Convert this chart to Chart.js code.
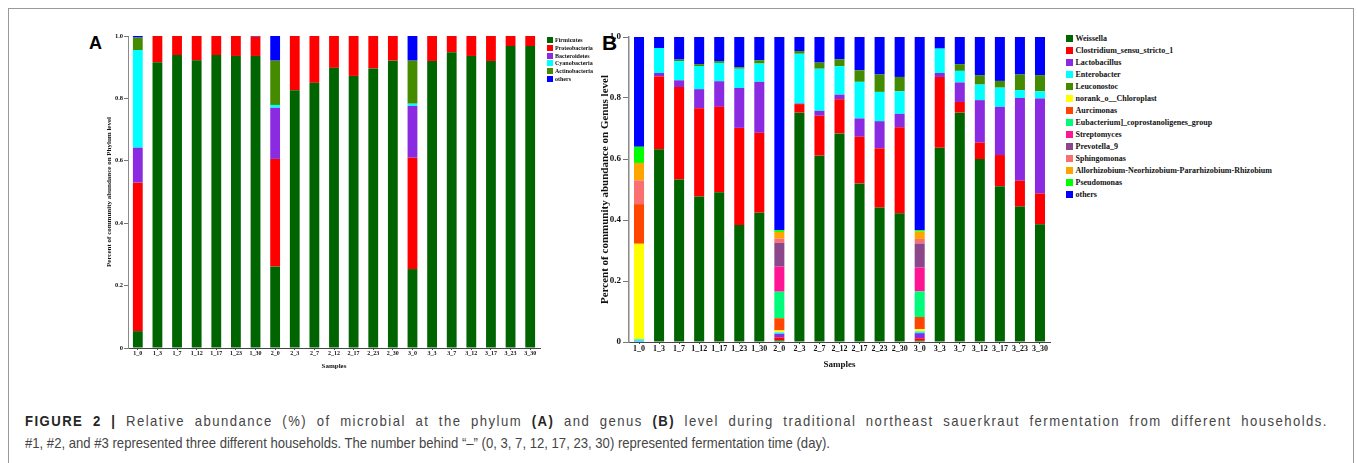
<!DOCTYPE html>
<html><head><meta charset="utf-8">
<script src="https://cdn.jsdelivr.net/npm/chart.js@4.4.1/dist/chart.umd.min.js"></script>
<style>
html,body{margin:0;padding:0;background:#fff;}
body{width:1357px;height:463px;overflow:hidden;position:relative;}
#frame{position:absolute;left:8px;top:8px;width:1346px;height:470px;border:1px solid #9a9a9a;border-bottom:none;box-sizing:border-box;}
canvas{position:absolute;}
.plabel{position:absolute;font-family:"Liberation Sans",Arial,sans-serif;font-weight:bold;color:#000;line-height:1;}
.legend{position:absolute;font-family:"Liberation Serif","Times New Roman",serif;font-weight:bold;color:#111;}
.legend .it{position:absolute;left:0;white-space:nowrap;display:flex;align-items:center;}
.legend .sw{display:inline-block;flex:none;}
.cap{position:absolute;left:25px;font-family:"Liberation Sans",Arial,sans-serif;color:#454545;white-space:nowrap;font-size:15px;line-height:20px;transform-origin:0 0;}
.cap b{color:#262626;}
</style>
</head><body>
<div id="frame"></div>
<div class="plabel" id="labA" style="left:89px;top:34px;font-size:18px;">A</div>
<div class="plabel" id="labB" style="left:602px;top:32px;font-size:21px;">B</div>
<canvas id="cA" width="545" height="375" style="left:0;top:0;width:545px;height:375px;"></canvas>
<canvas id="cB" width="495" height="380" style="left:560px;top:0;width:495px;height:380px;"></canvas>
<div class="legend" id="legA" style="left:547px;top:37px;"></div>
<div class="legend" id="legB" style="left:1066px;top:35px;"></div>
<div class="cap" id="cap1" style="top:411px;"><b>FIGURE 2 |</b> Relative abundance (%) of microbial at the phylum <b>(A)</b> and genus <b>(B)</b> level during traditional northeast sauerkraut fermentation from different households.</div>
<div class="cap" id="cap2" style="top:433px;">#1, #2, and #3 represented three different households. The number behind “–” (0, 3, 7, 12, 17, 23, 30) represented fermentation time (day).</div>
<script>
// ---------- categories ----------
const samples = ["1_0","1_3","1_7","1_12","1_17","1_23","1_30","2_0","2_3","2_7","2_12","2_17","2_23","2_30","3_0","3_3","3_7","3_12","3_17","3_23","3_30"];
const yTicks = [0, 0.2, 0.4, 0.6, 0.8, 1];

// ---------- Panel A: phylum level ----------
const phylumNames = ["Firmicutes","Proteobacteria","Bacteroidetes","Cyanobacteria","Actinobacteria","others"];
const phylumColors = ["#006400","#ff0000","#8a2be2","#00ffff","#458b00","#0000ff"];
const firmicutes     = [0.054,0.916,0.939,0.922,0.939,0.936,0.936,0.261,0.826,0.850,0.898,0.872,0.896,0.921,0.253,0.920,0.948,0.936,0.920,0.968,0.968];
const proteobacteria = [0.476,0.084,0.061,0.078,0.061,0.064,0.062,0.345,0.174,0.150,0.102,0.128,0.104,0.079,0.357,0.080,0.052,0.064,0.080,0.032,0.032];
const bacteroidetes  = [0.112,0,0,0,0,0,0,0.164,0,0,0,0,0,0,0.166,0,0,0,0,0,0];
const cyanobacteria  = [0.313,0,0,0,0,0,0,0.009,0,0,0,0,0,0,0.007,0,0,0,0,0,0];
const actinobacteria = [0.040,0,0,0,0,0,0,0.142,0,0,0,0,0,0,0.138,0,0,0,0,0,0];
const phylumOthers   = [0.005,0,0,0,0,0,0.002,0.079,0,0,0,0,0,0,0.079,0,0,0,0,0,0];
const phylumSeries = [firmicutes,proteobacteria,bacteroidetes,cyanobacteria,actinobacteria,phylumOthers];

// ---------- Panel B: genus level ----------
const genusNames = ["Weissella","Clostridium_sensu_stricto_1","Lactobacillus","Enterobacter","Leuconostoc","norank_o__Chloroplast","Aurcimonas","Eubacterium]_coprostanoligenes_group","Streptomyces","Prevotella_9","Sphingomonas","Allorhizobium-Neorhizobium-Pararhizobium-Rhizobium","Pseudomonas","others"];
const genusColors = ["#006400","#ff0000","#8a2be2","#00ffff","#458b00","#ffff00","#ff4500","#00fa7a","#ff1493","#8b4789","#fa7070","#ffa500","#00ff00","#0000ff"];
const weissella     = [0,0.632,0.533,0.477,0.491,0.384,0.424,0.005,0.752,0.611,0.684,0.520,0.441,0.422,0.004,0.637,0.752,0.600,0.511,0.444,0.386];
const clostridium   = [0,0.239,0.303,0.289,0.280,0.318,0.262,0.010,0.028,0.131,0.112,0.153,0.194,0.282,0.008,0.232,0.035,0.054,0.102,0.085,0.101];
const lactobacillus = [0.003,0.011,0.022,0.063,0.084,0.131,0.167,0.012,0.002,0.016,0.015,0.060,0.089,0.044,0.017,0.013,0.064,0.139,0.158,0.271,0.311];
const enterobacter  = [0.006,0.082,0.063,0.076,0.060,0.063,0.060,0.005,0.163,0.138,0.093,0.120,0.096,0.074,0.006,0.080,0.038,0.051,0.063,0.026,0.024];
const leuconostoc   = [0,0,0.005,0.006,0.006,0.005,0.011,0,0.009,0.020,0.023,0.038,0.057,0.047,0,0,0.022,0.031,0.022,0.051,0.053];
const chloroplast   = [0.313,0,0,0,0,0,0,0.006,0,0,0,0,0,0,0.007,0,0,0,0,0,0];
const aurcimonas    = [0.130,0,0,0,0,0,0,0.040,0,0,0,0,0,0,0.040,0,0,0,0,0,0];
const eubacterium   = [0,0,0,0,0,0,0,0.087,0,0,0,0,0,0,0.084,0,0,0,0,0,0];
const streptomyces  = [0,0,0,0,0,0,0,0.082,0,0,0,0,0,0,0.078,0,0,0,0,0,0];
const prevotella    = [0,0,0,0,0,0,0,0.078,0,0,0,0,0,0,0.079,0,0,0,0,0,0];
const sphingomonas  = [0.078,0,0,0,0,0,0,0.014,0,0,0,0,0,0,0.015,0,0,0,0,0,0];
const allorhizobium = [0.057,0,0,0,0,0,0,0.022,0,0,0,0,0,0,0.024,0,0,0,0,0,0];
const pseudomonas   = [0.053,0,0,0,0,0,0,0.006,0,0,0,0,0,0,0.005,0,0,0,0,0,0];
const genusOthers   = [0.360,0.036,0.074,0.089,0.079,0.099,0.076,0.633,0.046,0.084,0.073,0.109,0.123,0.131,0.633,0.038,0.089,0.125,0.144,0.123,0.125];
const genusSeries = [weissella,clostridium,lactobacillus,enterobacter,leuconostoc,chloroplast,aurcimonas,eubacterium,streptomyces,prevotella,sphingomonas,allorhizobium,pseudomonas,genusOthers];

const SERIF = "'Liberation Serif','Times New Roman',serif";

function makeChart(id, names, colors, series, o) {
  return new Chart(document.getElementById(id), {
    type: 'bar',
    data: {
      labels: samples,
      datasets: names.map((n, i) => ({
        label: n, data: series[i], backgroundColor: colors[i],
        borderWidth: 0, barPercentage: 0.5, categoryPercentage: 1.0
      }))
    },
    options: {
      responsive: false, animation: false, devicePixelRatio: 1,
      layout: { padding: { left: 0, right: o.padRight, top: o.padTop, bottom: 0 } },
      plugins: { legend: { display: false }, tooltip: { enabled: false } },
      scales: {
        x: {
          stacked: true, offset: true,
          grid: { display: true, drawOnChartArea: false, drawTicks: true, tickLength: 2, offset: false, color: '#444' },
          border: { display: true, color: '#444', width: 1 },
          ticks: { font: { family: SERIF, weight: 'bold', size: o.xTickSize }, color: '#111', padding: 0, maxRotation: 0, autoSkip: false },
          title: { display: true, text: 'Samples', color: '#111', font: { family: SERIF, weight: 'bold', size: o.xTitleSize }, padding: { top: 0, bottom: o.xTitlePad } },
          afterFit: s => { s.height = o.xHeight; }
        },
        y: {
          stacked: true, min: 0, max: 1,
          afterBuildTicks: s => { s.ticks = yTicks.map(v => ({ value: v })); },
          grid: { display: true, drawOnChartArea: false, drawTicks: true, tickLength: o.yTickLen, color: '#777' },
          border: { display: true, color: '#8a8a8a', width: o.yBorderW },
          ticks: { font: { family: SERIF, weight: 'bold', size: o.yTickSize }, color: '#111', padding: o.yTickPad },
          title: { display: true, text: o.yTitle, color: '#111', font: { family: SERIF, weight: 'bold', size: o.yTitleSize }, padding: { top: o.yTitlePad, bottom: 0 } },
          afterFit: s => { s.width = o.yWidth; }
        }
      }
    }
  });
}

makeChart('cA', phylumNames, phylumColors, phylumSeries, {
  padRight: 5, padTop: 36, xHeight: 27, yWidth: 128,
  xTickSize: 6, xTitleSize: 7, xTitlePad: 5,
  yTickSize: 6.5, yTickLen: 4, yTickPad: 1, yBorderW: 1,
  yTitle: 'Percent of community abundance on Phylum level', yTitleSize: 7, yTitlePad: 104.5
});
makeChart('cB', genusNames, genusColors, genusSeries, {
  padRight: 5, padTop: 37, xHeight: 38, yWidth: 69,
  xTickSize: 8, xTitleSize: 9, xTitlePad: 9.6,
  yTickSize: 9, yTickLen: 6, yTickPad: 2, yBorderW: 1.5,
  yTitle: 'Percent of community abundance on Genus level', yTitleSize: 11, yTitlePad: 38.4
});

function buildLegend(id, names, colors, step, sw, fs, gap) {
  const el = document.getElementById(id);
  names.forEach((n, i) => {
    const it = document.createElement('div');
    it.className = 'it';
    it.style.top = (i * step) + 'px';
    it.style.height = sw + 'px';
    it.style.fontSize = fs + 'px';
    it.style.lineHeight = sw + 'px';
    const s = document.createElement('span');
    s.className = 'sw';
    s.style.width = sw + 'px'; s.style.height = sw + 'px';
    s.style.background = colors[i];
    s.style.marginRight = gap + 'px';
    const t = document.createElement('span');
    t.textContent = n;
    it.appendChild(s); it.appendChild(t);
    el.appendChild(it);
  });
}
buildLegend('legA', phylumNames, phylumColors, 7.8, 6, 6, 2);
buildLegend('legB', genusNames, genusColors, 12, 7, 8, 2.5);

// caption: first line justified to full width (mixed letter/word spacing), last line natural
(function () {
  const c1 = document.getElementById('cap1'), c2 = document.getElementById('cap2');
  const w2 = c2.getBoundingClientRect().width;
  const sx = 805 / w2;                       // last line ends near x = 830
  c1.style.transform = 'scaleX(' + sx + ')';
  c2.style.transform = 'scaleX(' + sx + ')';
  const w1 = c1.getBoundingClientRect().width / sx;   // unscaled width
  const txt = c1.textContent;
  const n = txt.length;
  const spaces = (txt.match(/ /g) || []).length;
  const extra = 1303 / sx - w1;
  c1.style.letterSpacing = (0.7 * extra / n) + 'px';
  c1.style.wordSpacing = (0.3 * extra / spaces) + 'px';
})();
</script>
</body></html>
